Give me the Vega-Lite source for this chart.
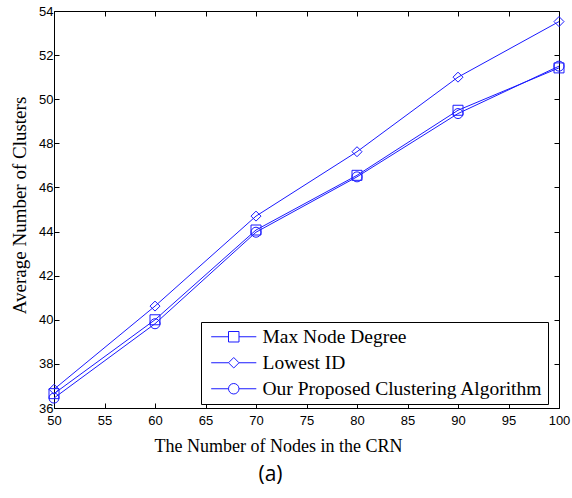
{
  "$schema": "https://vega.github.io/schema/vega-lite/v6.json",
  "width": 505,
  "height": 397,
  "autosize": {"type": "none"},
  "padding": {"left": 54, "top": 11, "right": 13, "bottom": 90},
  "background": "white",
  "title": {
    "text": "(a)",
    "orient": "bottom",
    "anchor": "middle",
    "frame": "group",
    "font": "Open Sans",
    "fontSize": 21,
    "fontWeight": "normal",
    "color": "black",
    "dx": -36,
    "offset": 9
  },
  "data": {
    "values": [
      {"nodes": 50, "clusters": 36.65, "method": "Max Node Degree"},
      {"nodes": 60, "clusters": 40.0, "method": "Max Node Degree"},
      {"nodes": 70, "clusters": 44.07, "method": "Max Node Degree"},
      {"nodes": 80, "clusters": 46.55, "method": "Max Node Degree"},
      {"nodes": 90, "clusters": 49.5, "method": "Max Node Degree"},
      {"nodes": 100, "clusters": 51.42, "method": "Max Node Degree"},
      {"nodes": 50, "clusters": 36.85, "method": "Lowest ID"},
      {"nodes": 60, "clusters": 40.62, "method": "Lowest ID"},
      {"nodes": 70, "clusters": 44.7, "method": "Lowest ID"},
      {"nodes": 80, "clusters": 47.62, "method": "Lowest ID"},
      {"nodes": 90, "clusters": 51.0, "method": "Lowest ID"},
      {"nodes": 100, "clusters": 53.52, "method": "Lowest ID"},
      {"nodes": 50, "clusters": 36.45, "method": "Our Proposed Clustering Algorithm"},
      {"nodes": 60, "clusters": 39.82, "method": "Our Proposed Clustering Algorithm"},
      {"nodes": 70, "clusters": 43.97, "method": "Our Proposed Clustering Algorithm"},
      {"nodes": 80, "clusters": 46.48, "method": "Our Proposed Clustering Algorithm"},
      {"nodes": 90, "clusters": 49.35, "method": "Our Proposed Clustering Algorithm"},
      {"nodes": 100, "clusters": 51.5, "method": "Our Proposed Clustering Algorithm"}
    ]
  },
  "resolve": {"scale": {"shape": "independent"}, "legend": {"shape": "independent"}},
  "layer": [
    {
      "mark": {"type": "line", "color": "#1a1aff", "strokeWidth": 1},
      "encoding": {
        "x": {
          "field": "nodes",
          "type": "quantitative",
          "scale": {"domain": [50, 100], "nice": false, "zero": false},
          "axis": {
            "orient": "bottom",
            "values": [50, 55, 60, 65, 70, 75, 80, 85, 90, 95, 100],
            "labelPadding": 11,
            "title": "The Number of Nodes in the CRN",
            "titleX": 224,
            "titlePadding": 10
          }
        },
        "y": {
          "field": "clusters",
          "type": "quantitative",
          "scale": {"domain": [36, 54], "nice": false, "zero": false},
          "axis": {
            "orient": "left",
            "values": [36, 38, 40, 42, 44, 46, 48, 50, 52, 54],
            "labelPadding": 6,
            "title": "Average Number of Clusters",
            "titleFontSize": 19,
            "titleY": 194,
            "titlePadding": 9
          }
        },
        "detail": {"field": "method"}
      }
    },
    {
      "mark": {"type": "point", "filled": false, "color": "#1a1aff", "strokeWidth": 1, "size": 100, "opacity": 1},
      "encoding": {
        "x": {
          "field": "nodes",
          "type": "quantitative",
          "axis": {
            "orient": "top",
            "values": [50, 55, 60, 65, 70, 75, 80, 85, 90, 95, 100],
            "labels": false,
            "title": null
          }
        },
        "y": {
          "field": "clusters",
          "type": "quantitative",
          "axis": {
            "orient": "right",
            "values": [36, 38, 40, 42, 44, 46, 48, 50, 52, 54],
            "labels": false,
            "title": null
          }
        },
        "shape": {
          "field": "method",
          "type": "nominal",
          "scale": {
            "domain": ["Max Node Degree", "Lowest ID", "Our Proposed Clustering Algorithm"],
            "range": ["square", "diamond", "circle"]
          },
          "legend": null
        }
      }
    },
    {
      "description": "Legend only: the line-through-marker key symbols; no rows reach this layer.",
      "transform": [{"filter": "false"}],
      "mark": {"type": "point", "filled": false, "color": "#1a1aff", "strokeWidth": 1, "size": 110, "opacity": 1},
      "encoding": {
        "x": {"field": "nodes", "type": "quantitative", "axis": null},
        "y": {"field": "clusters", "type": "quantitative", "axis": null},
        "shape": {
          "field": "method",
          "type": "nominal",
          "scale": {
            "domain": ["Max Node Degree", "Lowest ID", "Our Proposed Clustering Algorithm"],
            "range": [
              "M-1,-1H1V1H-1Z M-4.3,0H-1 M1,0H4.3",
              "M-1,0L0,-1L1,0L0,1Z M-4.3,0H-1 M1,0H4.3",
              "M-1,0A1,1,0,1,1,1,0A1,1,0,1,1,-1,0Z M-4.3,0H-1 M1,0H4.3"
            ]
          },
          "legend": {
            "title": null,
            "orient": "none",
            "legendX": 147,
            "legendY": 311,
            "padding": 5,
            "strokeColor": "black",
            "fillColor": "white",
            "symbolSize": 110,
            "symbolStrokeColor": "#1a1aff",
            "symbolFillColor": "transparent",
            "symbolStrokeWidth": 1,
            "symbolOffset": 18,
            "labelOffset": 19,
            "labelFont": "Liberation Serif",
            "labelFontSize": 19.5,
            "labelColor": "black",
            "labelLimit": 400,
            "rowPadding": 5
          }
        }
      }
    }
  ],
  "config": {
    "view": {"stroke": "black", "strokeWidth": 1},
    "axis": {
      "grid": false,
      "domain": false,
      "ticks": true,
      "tickSize": -5,
      "tickColor": "black",
      "tickWidth": 1,
      "labelFlush": false,
      "labelOverlap": false,
      "labelFont": "Liberation Sans",
      "labelFontSize": 13,
      "labelColor": "black",
      "titleFont": "Liberation Serif",
      "titleFontSize": 18,
      "titleFontWeight": "normal",
      "titleColor": "black"
    }
  }
}
